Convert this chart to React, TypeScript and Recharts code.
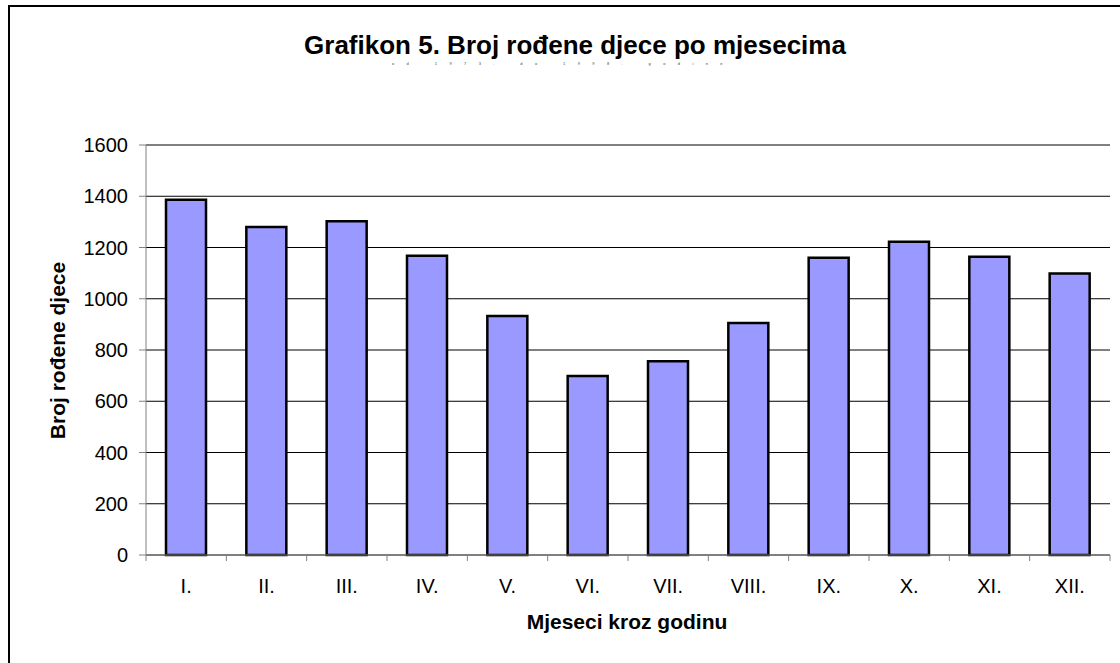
import { BarChart, Bar, XAxis, YAxis, CartesianGrid } from "recharts";

const months = ["I.", "II.", "III.", "IV.", "V.", "VI.", "VII.", "VIII.", "IX.", "X.", "XI.", "XII."];
const births = [1386, 1280, 1302, 1168, 933, 699, 756, 905, 1160, 1222, 1164, 1099];
const yTicks = [0, 200, 400, 600, 800, 1000, 1200, 1400, 1600];

const title = "Grafikon 5. Broj rođene djece po mjesecima";
const subtitle = "od 1973. do 1998. godine";
const xTitle = "Mjeseci kroz godinu";
const yTitle = "Broj rođene djece";

const data = months.map((m, i) => ({ month: m, births: births[i] }));

const FONT = "'Liberation Sans', Arial, sans-serif";
const AXIS_GRAY = "#808080";
const X_TICK_MARGIN = 24;

function MonthTick(props: any) {
  const { x, y, payload } = props;
  const half = payload?.offset ?? 0;
  const axisY = y - X_TICK_MARGIN;
  const isLast = payload?.value === months[months.length - 1];
  return (
    <g>
      <line x1={x - half} x2={x - half} y1={axisY} y2={axisY + 6} stroke={AXIS_GRAY} />
      {isLast && (
        <line x1={x + half} x2={x + half} y1={axisY} y2={axisY + 6} stroke={AXIS_GRAY} />
      )}
      <text x={x} y={y} dy="0.71em" textAnchor="middle" fill="#000" fontSize={20} fontFamily={FONT}>
        {payload.value}
      </text>
    </g>
  );
}

export default function App() {
  return (
    <div
      style={{
        position: "absolute",
        left: 0,
        top: 0,
        width: 1120,
        height: 663,
        background: "#fff",
        fontFamily: FONT,
        overflow: "hidden",
      }}
    >
      {/* frame, only top and left edges are inside the picture */}
      <div
        style={{
          position: "absolute",
          left: 8,
          top: 5,
          width: 1200,
          height: 700,
          borderTop: "2px solid #000",
          borderLeft: "2px solid #000",
        }}
      />

      <div
        style={{
          position: "absolute",
          left: 0,
          top: 32,
          width: 1150,
          textAlign: "center",
          fontSize: 26,
          fontWeight: "bold",
          lineHeight: 1,
        }}
      >
        {title}
      </div>
      <div
        style={{
          position: "absolute",
          left: 392,
          top: 62,
          width: 360,
          fontSize: 4,
          letterSpacing: 12.4,
          lineHeight: 1,
          color: "#444",
          whiteSpace: "nowrap",
        }}
      >
        {subtitle}
      </div>

      <div
        style={{
          position: "absolute",
          left: 57 - 150,
          top: 350 - 10.5,
          width: 300,
          height: 21,
          textAlign: "center",
          fontSize: 21,
          fontWeight: "bold",
          lineHeight: 1,
          transform: "rotate(-90deg)",
          whiteSpace: "nowrap",
        }}
      >
        {yTitle}
      </div>
      <div
        style={{
          position: "absolute",
          left: 627 - 200,
          top: 611,
          width: 400,
          textAlign: "center",
          fontSize: 21,
          fontWeight: "bold",
          lineHeight: 1,
        }}
      >
        {xTitle}
      </div>

      <div style={{ position: "absolute", left: 0, top: 0 }}>
        <BarChart
          width={1120}
          height={663}
          data={data}
          margin={{ top: 145, right: 10, left: 66, bottom: 48 }}
        >
          <CartesianGrid vertical={false} stroke="#000" />
          <XAxis
            dataKey="month"
            height={60}
            axisLine={{ stroke: AXIS_GRAY }}
            tickLine={false}
            tickSize={0}
            tickMargin={X_TICK_MARGIN}
            interval={0}
            tick={<MonthTick />}
          />
          <YAxis
            width={80}
            domain={[0, 1600]}
            ticks={yTicks}
            interval={0}
            axisLine={{ stroke: AXIS_GRAY }}
            tickLine={{ stroke: AXIS_GRAY }}
            tickSize={7}
            tickMargin={11}
            tick={{ fill: "#000", fontSize: 20, fontFamily: FONT }}
          />
          <Bar
            dataKey="births"
            barSize={40}
            fill="#9999FF"
            stroke="#000"
            strokeWidth={2.5}
            isAnimationActive={false}
          />
        </BarChart>
      </div>
    </div>
  );
}
